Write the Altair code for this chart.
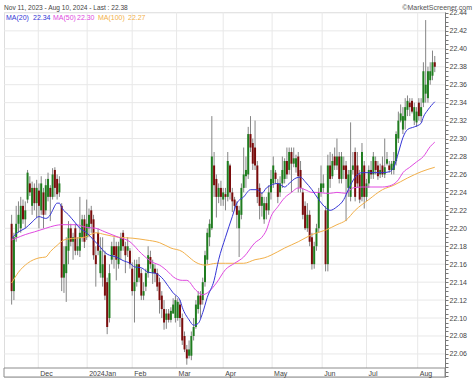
import altair as alt
import pandas as pd

opens = [22.205, 22.130, 22.190, 22.205, 22.200, 22.225, 22.210, 22.232, 22.250, 22.225,
         22.245, 22.228, 22.242, 22.220, 22.240, 22.220, 22.235, 22.245, 22.235, 22.265,
         22.255, 22.240, 22.225, 22.145, 22.150, 22.175, 22.200, 22.185, 22.200, 22.175,
         22.175, 22.190, 22.210, 22.190, 22.200, 22.220, 22.210, 22.170, 22.195, 22.150,
         22.145, 22.170, 22.140, 22.100, 22.165, 22.180, 22.180, 22.160, 22.175, 22.195,
         22.180, 22.175, 22.175, 22.155, 22.130, 22.140, 22.160, 22.150, 22.125, 22.135,
         22.150, 22.168, 22.150, 22.155, 22.150, 22.140, 22.125, 22.110, 22.098, 22.105,
         22.098, 22.105, 22.100, 22.100, 22.115, 22.100, 22.080, 22.065, 22.058, 22.058,
         22.080, 22.090, 22.110, 22.125, 22.120, 22.140, 22.165, 22.190, 22.200, 22.270,
         22.255, 22.235, 22.245, 22.232, 22.238, 22.235, 22.270, 22.240, 22.232, 22.225,
         22.200, 22.215, 22.245, 22.258, 22.260, 22.305, 22.295, 22.290, 22.270, 22.245,
         22.225, 22.210, 22.228, 22.220, 22.240, 22.250, 22.262, 22.250, 22.240, 22.250,
         22.255, 22.275, 22.265, 22.285, 22.272, 22.268, 22.280, 22.265, 22.240, 22.225,
         22.200, 22.215, 22.190, 22.160, 22.180, 22.200, 22.240, 22.245, 22.220, 22.160,
         22.270, 22.258, 22.280, 22.270, 22.280, 22.255, 22.270, 22.270, 22.245, 22.235,
         22.265, 22.285, 22.270, 22.260, 22.235, 22.270, 22.235, 22.250, 22.265, 22.260,
         22.275, 22.270, 22.260, 22.270, 22.260, 22.272, 22.270, 22.265, 22.265, 22.275,
         22.300, 22.320, 22.310, 22.320, 22.332, 22.340, 22.342, 22.320, 22.318, 22.340,
         22.325, 22.340, 22.350, 22.345, 22.365, 22.370, 22.385]

highs = [22.215, 22.195, 22.225, 22.230, 22.235, 22.232, 22.230, 22.265, 22.258, 22.252,
         22.250, 22.254, 22.250, 22.258, 22.245, 22.255, 22.262, 22.248, 22.267, 22.268,
         22.260, 22.258, 22.228, 22.180, 22.190, 22.208, 22.205, 22.195, 22.205, 22.190,
         22.235, 22.215, 22.215, 22.232, 22.222, 22.225, 22.215, 22.180, 22.200, 22.190,
         22.190, 22.175, 22.145, 22.160, 22.185, 22.190, 22.185, 22.185, 22.195, 22.198,
         22.185, 22.190, 22.178, 22.162, 22.165, 22.165, 22.168, 22.155, 22.140, 22.155,
         22.180, 22.175, 22.165, 22.160, 22.155, 22.145, 22.130, 22.120, 22.110, 22.110,
         22.112, 22.122, 22.125, 22.122, 22.120, 22.105, 22.085, 22.070, 22.075, 22.085,
         22.100, 22.120, 22.130, 22.130, 22.145, 22.175, 22.200, 22.210, 22.325, 22.285,
         22.260, 22.250, 22.253, 22.245, 22.245, 22.285, 22.272, 22.245, 22.235, 22.230,
         22.225, 22.250, 22.290, 22.280, 22.313, 22.325, 22.300, 22.320, 22.275, 22.250,
         22.240, 22.235, 22.235, 22.248, 22.265, 22.280, 22.265, 22.255, 22.258, 22.280,
         22.278, 22.290, 22.290, 22.290, 22.290, 22.282, 22.285, 22.275, 22.245, 22.230,
         22.228, 22.220, 22.195, 22.185, 22.205, 22.245, 22.270, 22.260, 22.225, 22.282,
         22.285, 22.283, 22.290, 22.300, 22.285, 22.285, 22.280, 22.275, 22.265, 22.318,
         22.285, 22.290, 22.285, 22.265, 22.295, 22.275, 22.255, 22.270, 22.275, 22.285,
         22.280, 22.275, 22.272, 22.280, 22.300, 22.285, 22.275, 22.275, 22.285, 22.308,
         22.330, 22.338, 22.335, 22.345, 22.348, 22.345, 22.345, 22.340, 22.335, 22.345,
         22.345, 22.385, 22.432, 22.380, 22.385, 22.398, 22.392]

lows = [22.115, 22.120, 22.185, 22.195, 22.195, 22.205, 22.200, 22.228, 22.236, 22.215,
        22.220, 22.212, 22.200, 22.215, 22.200, 22.215, 22.230, 22.208, 22.232, 22.235,
        22.232, 22.235, 22.130, 22.128, 22.118, 22.160, 22.180, 22.165, 22.170, 22.170,
        22.168, 22.185, 22.178, 22.187, 22.190, 22.195, 22.165, 22.135, 22.170, 22.145,
        22.135, 22.120, 22.082, 22.095, 22.160, 22.155, 22.142, 22.155, 22.165, 22.175,
        22.150, 22.168, 22.155, 22.125, 22.095, 22.135, 22.140, 22.120, 22.120, 22.130,
        22.145, 22.155, 22.138, 22.140, 22.130, 22.105, 22.100, 22.087, 22.088, 22.095,
        22.095, 22.105, 22.095, 22.097, 22.090, 22.070, 22.062, 22.048, 22.055, 22.053,
        22.075, 22.088, 22.105, 22.100, 22.115, 22.135, 22.160, 22.180, 22.198, 22.235,
        22.212, 22.228, 22.225, 22.225, 22.220, 22.230, 22.232, 22.218, 22.220, 22.200,
        22.168, 22.210, 22.240, 22.245, 22.255, 22.285, 22.265, 22.265, 22.228, 22.210,
        22.213, 22.205, 22.210, 22.215, 22.232, 22.245, 22.250, 22.228, 22.235, 22.245,
        22.250, 22.255, 22.260, 22.240, 22.268, 22.262, 22.240, 22.240, 22.210, 22.198,
        22.196, 22.180, 22.154, 22.155, 22.175, 22.195, 22.235, 22.240, 22.152, 22.152,
        22.245, 22.255, 22.265, 22.265, 22.250, 22.250, 22.255, 22.208, 22.235, 22.230,
        22.260, 22.230, 22.245, 22.228, 22.230, 22.222, 22.230, 22.245, 22.255, 22.255,
        22.260, 22.254, 22.256, 22.257, 22.256, 22.270, 22.262, 22.260, 22.260, 22.270,
        22.295, 22.318, 22.305, 22.310, 22.325, 22.325, 22.328, 22.315, 22.313, 22.320,
        22.318, 22.335, 22.340, 22.340, 22.360, 22.365, 22.374]

closes = [22.130, 22.190, 22.205, 22.215, 22.225, 22.210, 22.220, 22.262, 22.240, 22.245,
          22.228, 22.245, 22.225, 22.250, 22.215, 22.248, 22.255, 22.235, 22.260, 22.245,
          22.238, 22.250, 22.145, 22.160, 22.180, 22.200, 22.185, 22.190, 22.175, 22.180,
          22.195, 22.210, 22.185, 22.205, 22.215, 22.205, 22.170, 22.160, 22.175, 22.175,
          22.160, 22.125, 22.090, 22.150, 22.180, 22.170, 22.165, 22.180, 22.190, 22.180,
          22.170, 22.180, 22.160, 22.130, 22.140, 22.160, 22.145, 22.125, 22.130, 22.150,
          22.170, 22.160, 22.160, 22.150, 22.135, 22.120, 22.110, 22.095, 22.105, 22.098,
          22.108, 22.115, 22.120, 22.118, 22.100, 22.075, 22.065, 22.055, 22.065, 22.080,
          22.090, 22.115, 22.125, 22.115, 22.140, 22.170, 22.195, 22.205, 22.280, 22.248,
          22.235, 22.245, 22.235, 22.240, 22.235, 22.275, 22.240, 22.230, 22.225, 22.215,
          22.220, 22.245, 22.260, 22.265, 22.305, 22.290, 22.272, 22.270, 22.235, 22.225,
          22.235, 22.228, 22.220, 22.240, 22.255, 22.270, 22.255, 22.235, 22.250, 22.265,
          22.275, 22.260, 22.285, 22.272, 22.278, 22.278, 22.258, 22.245, 22.215, 22.200,
          22.215, 22.185, 22.160, 22.180, 22.200, 22.240, 22.250, 22.250, 22.160, 22.270,
          22.255, 22.275, 22.270, 22.280, 22.255, 22.280, 22.265, 22.255, 22.260, 22.265,
          22.270, 22.235, 22.250, 22.232, 22.285, 22.235, 22.250, 22.265, 22.260, 22.280,
          22.265, 22.258, 22.265, 22.260, 22.268, 22.277, 22.265, 22.272, 22.275, 22.305,
          22.320, 22.328, 22.325, 22.335, 22.342, 22.335, 22.330, 22.335, 22.330, 22.325,
          22.335, 22.375, 22.360, 22.375, 22.375, 22.385, 22.380]

ma20_i = [0, 3, 6, 9, 12, 15, 17, 18, 20, 21, 22, 25, 28, 30, 33, 36, 39, 41, 43, 46,
          49, 52, 54, 57, 60, 63, 66, 69, 71, 74, 75, 78, 80, 82, 84, 86, 89, 91, 94, 97,
          99, 102, 105, 108, 110, 112, 114, 117, 120, 122, 125, 127, 129, 132, 135, 138, 140, 143, 146, 148,
          151, 154, 157, 160, 163, 166, 168, 170, 172, 174, 177, 180, 181, 183, 186]
ma20_v = [22.189, 22.196, 22.200, 22.207, 22.213, 22.211, 22.215, 22.220, 22.228, 22.228,
          22.223, 22.215, 22.206, 22.200, 22.195, 22.187, 22.179, 22.173, 22.170, 22.168,
          22.164, 22.161, 22.157, 22.156, 22.151, 22.150, 22.145, 22.135, 22.128, 22.120,
          22.112, 22.098, 22.092, 22.094, 22.106, 22.123, 22.142, 22.165, 22.190, 22.213,
          22.228, 22.235, 22.243, 22.243, 22.239, 22.245, 22.248, 22.250, 22.246, 22.250,
          22.256, 22.257, 22.252, 22.243, 22.232, 22.223, 22.220, 22.224, 22.232, 22.243,
          22.257, 22.262, 22.262, 22.262, 22.262, 22.263, 22.268, 22.284, 22.301, 22.310,
          22.313, 22.317, 22.324, 22.332, 22.341]

ma50_i = [0, 2, 6, 10, 15, 19, 22, 28, 33, 37, 41, 47, 52, 57, 62, 65, 69, 71, 75, 77,
          81, 84, 86, 90, 94, 98, 102, 107, 110, 112, 114, 117, 120, 123, 126, 129, 132, 135, 138, 140,
          143, 147, 150, 154, 158, 163, 167, 170, 172, 175, 178, 181, 184, 186]
ma50_v = [22.187, 22.189, 22.193, 22.196, 22.200, 22.203, 22.204, 22.204, 22.201, 22.200,
          22.196, 22.190, 22.185, 22.172, 22.162, 22.159, 22.151, 22.146, 22.142, 22.142,
          22.131, 22.126, 22.128, 22.139, 22.154, 22.161, 22.168, 22.184, 22.190, 22.198,
          22.213, 22.224, 22.234, 22.240, 22.245, 22.243, 22.240, 22.240, 22.239, 22.239,
          22.240, 22.239, 22.245, 22.246, 22.246, 22.246, 22.248, 22.254, 22.262, 22.268,
          22.274, 22.280, 22.291, 22.296]

ma100_i = [0, 3, 7, 12, 15, 17, 20, 23, 28, 32, 37, 41, 47, 53, 59, 65, 70, 75, 77, 81,
           85, 90, 94, 98, 102, 107, 111, 114, 120, 126, 132, 138, 143, 147, 151, 157, 163, 168, 174, 180,
           186]
ma100_v = [22.139, 22.151, 22.161, 22.167, 22.168, 22.174, 22.181, 22.187, 22.189, 22.190,
           22.195, 22.193, 22.190, 22.189, 22.187, 22.184, 22.178, 22.174, 22.170, 22.162,
           22.159, 22.161, 22.161, 22.161, 22.161, 22.165, 22.167, 22.170, 22.178, 22.185,
           22.193, 22.198, 22.204, 22.209, 22.220, 22.232, 22.243, 22.248, 22.256, 22.263,
           22.268]

month_pos = [11.7, 33.2, 53.0, 72.5, 93.0, 114.5, 136.5, 156.0, 178.5]
month_lab = ["Dec", "2024Jan", "Feb", "Mar", "Apr", "May", "Jun", "Jul", "Aug"]

grid_vals = [22.06, 22.08, 22.10, 22.12, 22.14, 22.16, 22.18, 22.20, 22.22, 22.24,
             22.26, 22.28, 22.30, 22.32, 22.34, 22.36, 22.38, 22.40, 22.42, 22.44]
tick_vals = [round(22.035 + 0.005 * k, 3) for k in range(82)]

FONT = "Liberation Sans"
UP, DOWN = "#1f7d1f", "#7a0c0c"
C20, C50, C100 = "#3535d6", "#e04ae0", "#f2b04a"

df = pd.DataFrame({"i": list(range(len(closes))), "open": opens, "high": highs,
                   "low": lows, "close": closes})
df["dir"] = ["up" if c >= o else "down" for o, c in zip(opens, closes)]

xs = alt.Scale(domain=[-1.16, 188.3], nice=False, zero=False)
ys = alt.Scale(domain=[22.0343, 22.441], nice=False, zero=False)

yaxis = alt.Axis(
    orient="right", values=tick_vals,
    labelExpr="(abs(round(datum.value*200)) % 4 == 0 && datum.value > 22.05) ? format(datum.value, '.2f') : ''",
    grid=False, ticks=True, tickSize=3, tickColor="#777", domain=True, domainColor="#777",
    labelFontSize=7, labelFont=FONT, labelColor="#444", labelPadding=1, title=None,
    labelBound=False, labelOverlap=False, labelFlush=False)

one = pd.DataFrame({"k": [0]})

hgrid = alt.Chart(pd.DataFrame({"v": grid_vals})).mark_rule(color="#e8e8e8", strokeWidth=1).encode(
    y=alt.Y("v:Q", scale=ys, axis=yaxis),
    x=alt.value(0), x2=alt.value(441))

mdf = pd.DataFrame({"pos": month_pos, "lab": month_lab})
vgrid = alt.Chart(mdf).mark_rule(color="#e8e8e8", strokeWidth=1).encode(
    x=alt.X("pos:Q", scale=xs, axis=None), y=alt.value(0), y2=alt.value(356))

band = alt.Chart(one).mark_rect(fill="white", stroke="#8c8c8c", strokeWidth=1).encode(
    x=alt.value(0), x2=alt.value(441), y=alt.value(356), y2=alt.value(365))

mlabels = alt.Chart(mdf).mark_text(align="left", baseline="alphabetic", dx=2, fontSize=7,
                                   font=FONT, color="#444").encode(
    x=alt.X("pos:Q", scale=xs, axis=None), y=alt.value(363.5), text="lab:N")

wicks = alt.Chart(df).mark_rule(color="#858585", strokeWidth=1).encode(
    x=alt.X("i:Q", scale=xs, axis=None),
    y=alt.Y("low:Q", scale=ys, axis=yaxis), y2="high:Q")

bodies = alt.Chart(df).mark_bar(size=2).encode(
    x=alt.X("i:Q", scale=xs, axis=None),
    y=alt.Y("open:Q", scale=ys, axis=yaxis), y2="close:Q",
    color=alt.Color("dir:N", scale=alt.Scale(domain=["up", "down"], range=[UP, DOWN]), legend=None))


def ma_line(idx, vals, color):
    return alt.Chart(pd.DataFrame({"i": idx, "v": vals})).mark_line(
        color=color, strokeWidth=1, interpolate="monotone").encode(
        x=alt.X("i:Q", scale=xs, axis=None), y=alt.Y("v:Q", scale=ys, axis=yaxis))


l20 = ma_line(ma20_i, ma20_v, C20)
l50 = ma_line(ma50_i, ma50_v, C50)
l100 = ma_line(ma100_i, ma100_v, C100)


def txt(s, xpx, ypx, color, align="left", size=7):
    return alt.Chart(one).mark_text(align=align, baseline="alphabetic", fontSize=size,
                                    font=FONT, color=color).encode(
        x=alt.value(xpx), y=alt.value(ypx), text=alt.value(s))


legend = [
    txt("MA(20)", 2, 7.5, C20), txt(f"{ma20_v[-1]:.2f}", 29, 7.5, C20),
    txt("MA(50)", 49, 7.5, C50), txt(f"{ma50_v[-1]:.2f}", 73, 7.5, C50),
    txt("MA(100)", 94, 7.5, C100), txt(f"{ma100_v[-1]:.2f}", 124, 7.5, C100),
]
title_l = txt("Nov 11, 2023 - Aug 10, 2024 - Last : 22.38", 0, -2.5, "#444", size=6.6)
title_r = txt("\u00a9MarketScreener.com", 468, -2.5, "#555", align="right", size=7)

chart = alt.layer(
    hgrid, vgrid, band, mlabels, wicks, bodies, l100, l50, l20, *legend, title_l, title_r
).properties(
    width=441, height=365, autosize="none",
    padding={"left": 4, "top": 12, "right": 29, "bottom": 5},
).configure_view(stroke="#8c8c8c", strokeWidth=1).configure(background="white")

chart.save("out.html", embed_options={"renderer": "svg", "actions": False})
